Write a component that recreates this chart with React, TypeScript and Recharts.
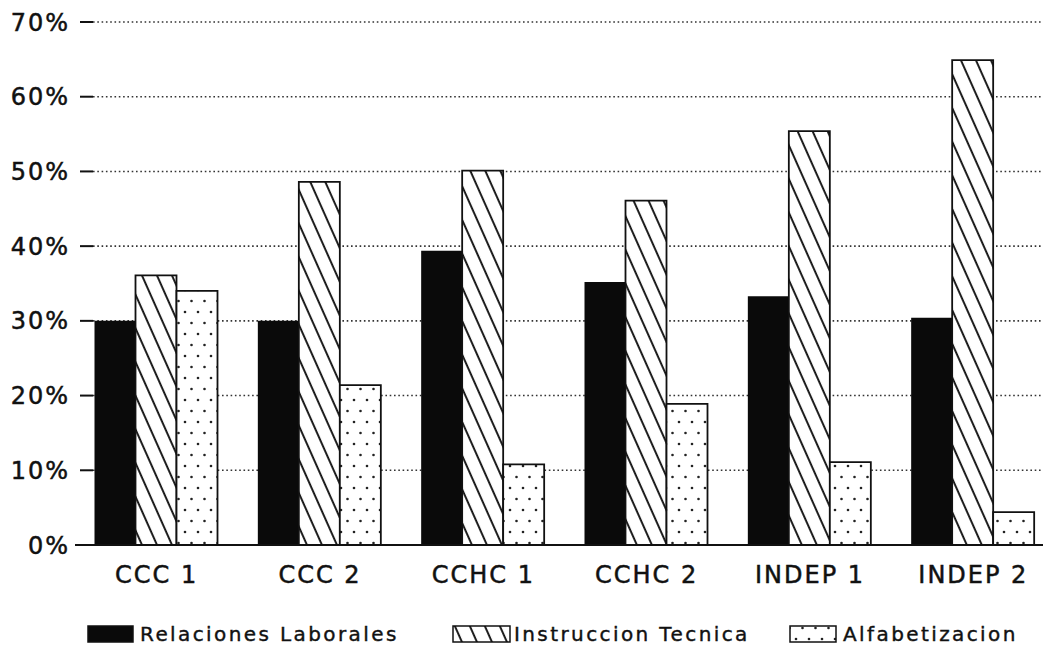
import { BarChart, Bar, XAxis, YAxis, CartesianGrid, Legend } from 'recharts';

const categories = ['CCC 1', 'CCC 2', 'CCHC 1', 'CCHC 2', 'INDEP 1', 'INDEP 2'];
const relaciones = [30, 30, 39.4, 35.2, 33.3, 30.4];
const instruccion = [36.1, 48.6, 50.1, 46.1, 55.4, 64.9];
const alfabetizacion = [34, 21.4, 10.8, 18.9, 11.1, 4.4];
const yTicks = [0, 10, 20, 30, 40, 50, 60, 70];

const data = categories.map((name, i) => ({
  name,
  relaciones: relaciones[i],
  instruccion: instruccion[i],
  alfabetizacion: alfabetizacion[i],
}));

const font = '"DejaVu Sans", sans-serif';

function YTick(props: any) {
  const { x, y, payload } = props;
  return (
    <g>
      <text x={x - 5} y={y} dy="0.36em" textAnchor="end" fontFamily={font} fontSize={24} letterSpacing={2} fill="#111" stroke="#111" strokeWidth={0.5}>
        {payload.value}%
      </text>
      <line x1={x + 5} x2={x + 18} y1={y} y2={y} stroke="#111" strokeWidth={2} />
    </g>
  );
}

function XTick(props: any) {
  const { x, y, payload } = props;
  return (
    <text x={x} y={y} dy={38} textAnchor="middle" fontFamily={font} fontSize={24} letterSpacing={2} fill="#111" stroke="#111" strokeWidth={0.5}>
      {payload.value}
    </text>
  );
}

function GridLine(props: any) {
  const { x1, x2, y1, y2 } = props;
  return (
    <line x1={x1 + 18} x2={x2} y1={y1} y2={y2} stroke="#333" strokeWidth={1.6} strokeDasharray="1.6 2.7" />
  );
}

function LegendContent() {
  const items = [
    { label: 'Relaciones Laborales', fill: '#0a0a0a', bx: 88, bw: 45, tx: 140 },
    { label: 'Instruccion Tecnica', fill: 'url(#hatch)', bx: 453, bw: 57, tx: 514 },
    { label: 'Alfabetizacion', fill: 'url(#dots)', bx: 790, bw: 46, tx: 843 },
  ];
  return (
    <svg width={1051} height={60}>
      {items.map((it) => (
        <g key={it.label}>
          <rect x={it.bx} y={35} width={it.bw} height={16} fill="#fff" />
          <rect x={it.bx} y={35} width={it.bw} height={16} fill={it.fill} stroke="#111" strokeWidth={1.5} />
          <text x={it.tx} y={50} fontFamily={font} fontSize={20} letterSpacing={2.4} fill="#111" stroke="#111" strokeWidth={0.4}>
            {it.label}
          </text>
        </g>
      ))}
    </svg>
  );
}

export default function App() {
  return (
    <div style={{ margin: '-8px 0 0 -8px', width: 1051, height: 651, overflow: 'hidden', background: '#fff' }}>
      <BarChart
        width={1055}
        height={651}
        data={data}
        margin={{ top: 22, right: 0, bottom: 0, left: 0 }}
        barCategoryGap={19.5}
        barGap={0}
      >
        <defs>
          <pattern id="hatch" patternUnits="userSpaceOnUse" width={13.7} height={20} patternTransform="rotate(-24)">
            <rect width={13.7} height={20} fill="#fff" />
            <line x1={4} y1={0} x2={4} y2={20} stroke="#111" strokeWidth={1.9} />
          </pattern>
          <pattern id="dots" patternUnits="userSpaceOnUse" width={13} height={22}>
            <rect width={13} height={22} fill="#fff" />
            <circle cx={3} cy={4} r={1.3} fill="#222" />
            <circle cx={9.5} cy={15} r={1.3} fill="#222" />
          </pattern>
        </defs>
        <CartesianGrid vertical={false} horizontal={GridLine as any} />
        <XAxis
          dataKey="name"
          height={46}
          tickLine={false}
          tickSize={0}
          tickMargin={0}
          axisLine={{ stroke: '#111', strokeWidth: 2 }}
          tick={<XTick />}
        />
        <YAxis
          width={75}
          domain={[0, 70]}
          ticks={yTicks}
          tickLine={false}
          tickSize={0}
          tickMargin={0}
          axisLine={false}
          tick={<YTick />}
        />
        <Legend verticalAlign="bottom" height={60} wrapperStyle={{ left: 0, bottom: 0, width: 1051 }} content={<LegendContent />} />
        <Bar dataKey="relaciones" name="Relaciones Laborales" fill="#0a0a0a" isAnimationActive={false} />
        <Bar dataKey="instruccion" name="Instruccion Tecnica" fill="url(#hatch)" stroke="#111" strokeWidth={1.8} isAnimationActive={false} />
        <Bar dataKey="alfabetizacion" name="Alfabetizacion" fill="url(#dots)" stroke="#111" strokeWidth={1.8} isAnimationActive={false} />
      </BarChart>
    </div>
  );
}
